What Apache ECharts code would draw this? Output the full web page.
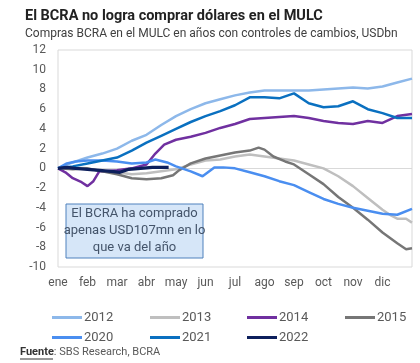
<!DOCTYPE html>
<html><head><meta charset="utf-8">
<script src="https://cdn.jsdelivr.net/npm/echarts@6/dist/echarts.min.js"></script>
<style>html,body{margin:0;padding:0;background:#fff}#c{width:420px;height:363px}</style>
</head><body><div id="c"></div>
<script>
const months = ['ene','feb','mar','abr','may','jun','jul','ago','sep','oct','nov','dic'];
const yTicks = [-10,-8,-6,-4,-2,0,2,4,6,8,10,12];
// [month position, USDbn]
const s2012 = [[0,0],[0.5,0.6],[1,1.1],[1.5,1.5],[2,2.0],[2.5,2.8],[3,3.4],[3.5,4.4],[4,5.3],[4.5,6.0],[5,6.6],[5.5,7.0],[6,7.4],[6.5,7.7],[7,7.9],[7.5,7.9],[8,7.9],[8.5,7.9],[9,8.0],[9.5,8.1],[10,8.2],[10.5,8.1],[11,8.3],[11.5,8.7],[12,9.1]];
const s2013 = [[0,0],[0.5,0.1],[1,0],[1.5,-0.3],[2,-0.4],[2.5,-0.6],[3,-0.5],[3.5,-0.3],[4,-0.1],[4.3,0.2],[4.5,0.4],[5,0.8],[5.5,0.9],[6,1.2],[6.5,1.4],[7,1.2],[7.5,1.0],[8,0.8],[8.5,0.4],[9,0],[9.5,-0.8],[10,-1.8],[10.5,-3.0],[11,-4.2],[11.3,-4.8],[11.5,-5.1],[11.8,-5.1],[12,-5.5]];
const s2014 = [[0,0],[0.25,-0.4],[0.5,-1.0],[0.8,-1.4],[1.0,-1.8],[1.2,-1.3],[1.4,-0.3],[1.6,-0.3],[2,-0.2],[2.5,0.0],[3,0.4],[3.3,1.5],[3.6,2.4],[4,2.9],[4.5,3.2],[5,3.6],[5.5,4.1],[6,4.5],[6.5,5.0],[7,5.1],[7.5,5.2],[8,5.3],[8.5,5.1],[9,4.8],[9.5,4.6],[10,4.5],[10.5,4.8],[11,4.6],[11.5,5.3],[12,5.5]];
const s2015 = [[0,0],[0.5,-0.1],[1,0],[1.5,-0.3],[2,-0.6],[2.5,-1.0],[3,-1.1],[3.5,-1.0],[3.9,-0.7],[4.1,-0.2],[4.5,0.5],[5,1.0],[5.5,1.3],[6,1.6],[6.5,1.8],[6.8,2.1],[7,1.9],[7.3,1.2],[7.7,0.7],[8,0.4],[8.5,-0.6],[9,-1.6],[9.5,-2.9],[10,-4.0],[10.5,-5.2],[11,-6.5],[11.5,-7.6],[11.8,-8.2],[12,-8.1]];
const s2020 = [[0,0],[0.3,0.5],[0.6,0.7],[1,0.8],[1.5,0.8],[2,0.7],[2.5,0.5],[3,0.6],[3.3,0.9],[3.7,0.6],[4,0.2],[4.5,-0.3],[4.9,-0.8],[5.3,0.1],[5.6,0.1],[6,0],[6.5,-0.4],[7,-0.8],[7.5,-1.3],[8,-1.7],[8.5,-2.4],[9,-3.1],[9.5,-3.6],[10,-4.0],[10.5,-4.3],[11,-4.6],[11.5,-4.7],[12,-4.1]];
const s2021 = [[0,0],[0.5,0.2],[1,0.5],[1.5,0.8],[2,1.1],[2.5,1.8],[3,2.6],[3.5,3.3],[4,4.0],[4.5,4.7],[5,5.3],[5.5,5.8],[6,6.4],[6.5,7.2],[7,7.2],[7.5,7.1],[8,7.6],[8.5,6.6],[9,6.2],[9.5,6.3],[10,6.8],[10.5,6.0],[11,5.6],[11.5,5.1],[12,5.1]];
const s2022 = [[0,0],[0.3,0.1],[0.6,0],[1,-0.1],[1.4,-0.2],[1.8,-0.3],[2.1,-0.4],[2.4,-0.1],[2.8,0],[3.2,0.1],[3.6,0.1],[3.75,0.1]];

const defs = [
  ['2012', s2012, '#8db8ea', 2.5],
  ['2013', s2013, '#bfbfbf', 2.5],
  ['2014', s2014, '#7030a0', 2.5],
  ['2015', s2015, '#767676', 2.5],
  ['2020', s2020, '#4a8ef0', 2.5],
  ['2021', s2021, '#0a70c0', 2.5],
  ['2022', s2022, '#0d1f5c', 3.2]
];
const legendPos = [[47,306],[145,306],[242,306],[340,306],[47,326],[145,326],[242,326]];

const series = defs.map((d,i)=>({
  name:d[0], type:'line', data:d[1], showSymbol:false, symbol:'none',
  lineStyle:{color:d[2], width:d[3]}, itemStyle:{color:d[2]}, z: 10+i,
  animation:false,
  markLine: i===0 ? {silent:true, symbol:'none', label:{show:false}, lineStyle:{color:'#d9d9d9', width:1, type:'solid'}, data:[{yAxis:0}], z:1} : undefined
}));

const legends = defs.map((d,i)=>({
  data:[d[0]], left:legendPos[i][0], top:legendPos[i][1], itemWidth:30, itemHeight:3,
  icon:'rect', itemGap:0, textStyle:{color:'#595959', fontSize:13, fontFamily:'Roboto', padding:[0,0,0,-3]},
  selectedMode:false
}));

const chart = echarts.init(document.getElementById('c'), null, {renderer:'canvas'});
chart.setOption({
  animation:false,
  title:[
    {text:'El BCRA no logra comprar dólares en el MULC', left:20, top:4, textStyle:{fontFamily:'Roboto', fontSize:14.5, fontWeight:'bold', color:'#222'}},
    {text:'Compras BCRA en el MULC en años con controles de cambios, USDbn', left:20, top:23, textStyle:{fontFamily:'Roboto', fontSize:12, fontWeight:'normal', color:'#404040'}}
  ],
  legend: legends,
  grid:{left:58, top:50, width:354, height:217, show:true, borderColor:'#d9d9d9', borderWidth:1, containLabel:false},
  xAxis:{type:'value', min:0, max:12, interval:1,
    axisLine:{show:false}, axisTick:{show:false}, splitLine:{show:false},
    axisLabel:{color:'#595959', fontSize:12, fontFamily:'Roboto', margin:10,
      formatter:(v)=> months[v] !== undefined ? months[v] : ''}},
  yAxis:{type:'value', min:yTicks[0], max:yTicks[yTicks.length-1], interval:2,
    axisLine:{show:false}, axisTick:{show:false}, splitLine:{show:false},
    axisLabel:{color:'#595959', fontSize:12, fontFamily:'Roboto', margin:12}},
  series: series,
  graphic:[
    {type:'rect', shape:{x:66, y:204, width:137, height:54}, style:{fill:'#d6e6f8', stroke:'#4f81bd', lineWidth:1}, z:100},
    {type:'text', x:134.5, y:231, style:{text:'El BCRA ha comprado\napenas USD107mn en lo\nque va del año', fill:'#44546a', font:'13px Roboto', align:'center', verticalAlign:'middle', lineHeight:17}, z:101},
    {type:'text', x:20, y:347, style:{text:'{b|Fuente}: SBS Research, BCRA', rich:{b:{fontWeight:'bold', fontSize:11, fill:'#333', fontFamily:'Roboto'}}, font:'11px Roboto', fill:'#595959'}, z:101},
    {type:'line', shape:{x1:20, y1:359, x2:53, y2:359}, style:{stroke:'#333', lineWidth:1}, z:101}
  ]
});
</script></body></html>
